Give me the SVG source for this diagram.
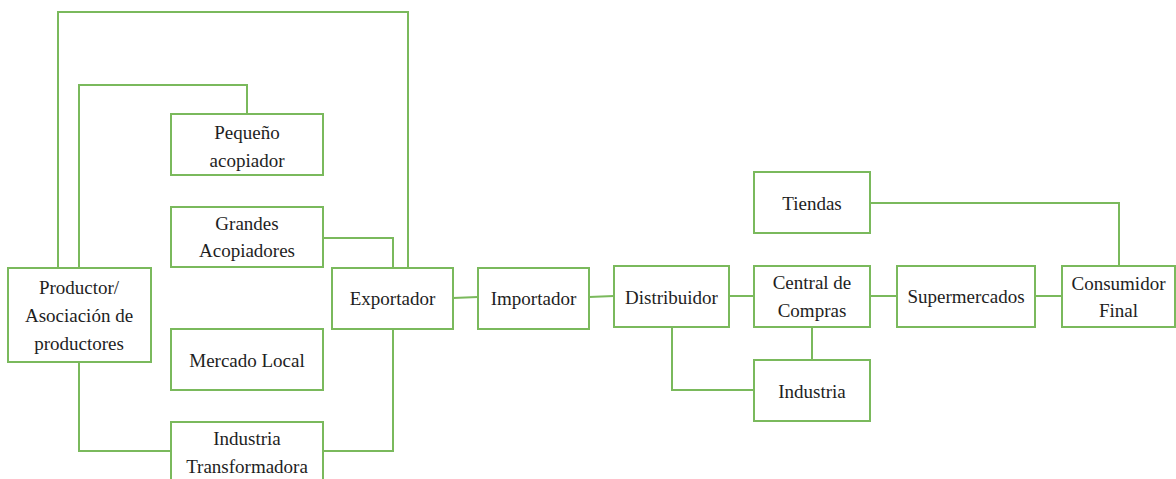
<svg xmlns="http://www.w3.org/2000/svg" width="1176" height="479" viewBox="0 0 1176 479">
<style>
.box{fill:#ffffff;stroke:#7ab95c;stroke-width:2}
.ln{fill:none;stroke:#7ab95c;stroke-width:2}
.t{font-family:'Liberation Serif','Times New Roman',serif;font-size:19px;fill:#1e1e1e;text-anchor:middle}
</style>
<rect width="1176" height="479" fill="#ffffff"/>
<g id="connectors">
<polyline class="ln" points="58,268 58,12 408,12 408,268"/>
<polyline class="ln" points="79,268 79,85 247,85 247,114"/>
<polyline class="ln" points="323,238 393,238 393,268"/>
<polyline class="ln" points="79,362 79,451 171,451"/>
<polyline class="ln" points="323,451 393,451 393,329"/>
<polyline class="ln" points="453,298 478,297"/>
<polyline class="ln" points="589,297 614,296"/>
<polyline class="ln" points="729,296 754,296"/>
<polyline class="ln" points="812,327 812,360"/>
<polyline class="ln" points="672,327 672,390 754,390"/>
<polyline class="ln" points="870,203 1119,203 1119,266"/>
<polyline class="ln" points="870,296 897,296"/>
<polyline class="ln" points="1035,296 1062,296"/>
</g>
<g class="t" font-family="Liberation Serif, serif">
<g id="pequeno"><rect class="box" x="171" y="114" width="152" height="61"/><text x="247" y="139">Pequeño</text><text x="247" y="167">acopiador</text></g>
<g id="grandes"><rect class="box" x="171" y="207" width="152" height="60"/><text x="247" y="230">Grandes</text><text x="247" y="257">Acopiadores</text></g>
<g id="productor"><rect class="box" x="8" y="268" width="143" height="94"/><text x="79" y="294">Productor/</text><text x="79" y="322">Asociación de</text><text x="79" y="350">productores</text></g>
<g id="mercado"><rect class="box" x="171" y="329" width="152" height="61"/><text x="247" y="367">Mercado Local</text></g>
<g id="industria-transformadora"><rect class="box" x="171" y="422" width="152" height="62"/><text x="247" y="445">Industria</text><text x="247" y="473">Transformadora</text></g>
<g id="exportador"><rect class="box" x="332" y="268" width="121" height="61"/><text x="392.5" y="305">Exportador</text></g>
<g id="importador"><rect class="box" x="478" y="268" width="111" height="61"/><text x="533.5" y="305">Importador</text></g>
<g id="distribuidor"><rect class="box" x="614" y="266" width="115" height="61"/><text x="671.5" y="304">Distribuidor</text></g>
<g id="tiendas"><rect class="box" x="754" y="172" width="116" height="61"/><text x="812" y="210">Tiendas</text></g>
<g id="central"><rect class="box" x="754" y="266" width="116" height="61"/><text x="812" y="289">Central de</text><text x="812" y="317">Compras</text></g>
<g id="industria"><rect class="box" x="754" y="360" width="116" height="61"/><text x="812" y="398">Industria</text></g>
<g id="supermercados"><rect class="box" x="897" y="266" width="138" height="61"/><text x="966" y="303">Supermercados</text></g>
<g id="consumidor"><rect class="box" x="1062" y="266" width="113" height="61"/><text x="1118.5" y="290">Consumidor</text><text x="1118.5" y="317">Final</text></g>
</g>
</svg>
